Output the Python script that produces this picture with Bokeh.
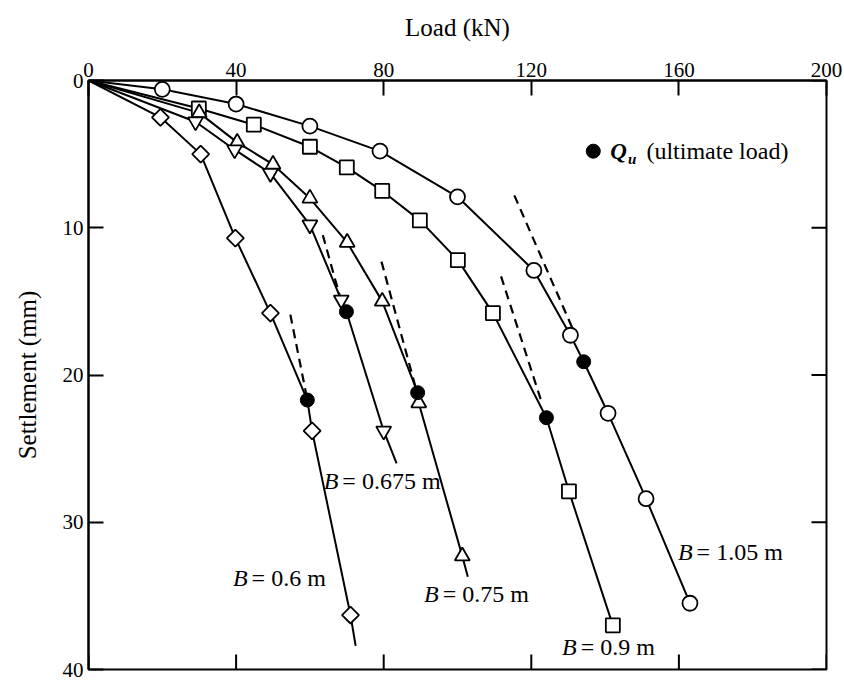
import numpy as np
from bokeh.plotting import figure
from bokeh.models import Range1d, FixedTicker
from bokeh.core.properties import value
from bokeh.embed import file_html
from bokeh.resources import INLINE

FONT = "Liberation Serif"

# ---- data (Load kN, Settlement mm) ----
x_ticks = [0, 40, 80, 120, 160, 200]
y_ticks = [0, 10, 20, 30, 40]

# B = 1.05 m (open circles)
load_105 = [20, 40, 60, 79, 100, 120.7, 130.6, 140.8, 151.1, 163]
settle_105 = [0.6, 1.6, 3.1, 4.8, 7.9, 12.9, 17.3, 22.6, 28.4, 35.5]
qu_105 = (134.2, 19.1)
end_105 = (163, 35.5)

# B = 0.9 m (open squares)
load_09 = [29.9, 44.8, 60, 70, 79.6, 89.8, 100.1, 109.6, 130.2, 142.1]
settle_09 = [1.9, 3.0, 4.5, 5.9, 7.5, 9.5, 12.2, 15.8, 27.9, 37.0]
qu_09 = (124.1, 22.9)
end_09 = (142.1, 37.0)

# B = 0.75 m (triangles)
load_075 = [30, 40.3, 50, 60, 70.1, 79.6, 89.5, 101.3]
settle_075 = [2.2, 4.2, 5.7, 8.0, 11.0, 15.0, 21.9, 32.3]
qu_075 = (89.2, 21.2)
end_075 = (102.8, 33.7)

# B = 0.675 m (inverted triangles)
load_0675 = [29, 39.6, 49.3, 60, 68.5, 80]
settle_0675 = [2.8, 4.7, 6.3, 9.8, 14.9, 23.8]
qu_0675 = (69.9, 15.7)
end_0675 = (83.5, 26.0)

# B = 0.6 m (diamonds)
load_06 = [19.5, 30.4, 39.8, 49.3, 60.6, 71]
settle_06 = [2.5, 5.0, 10.7, 15.8, 23.8, 36.3]
qu_06 = (59.3, 21.7)
end_06 = (72.4, 38.4)

# dashed tangent lines (start / end)
dash_x0 = [54.7, 63.5, 79.4, 111.8, 115.4]
dash_y0 = [15.9, 10.5, 12.3, 13.3, 7.8]
dash_x1 = [59.0, 68.5, 88.5, 123.0, 131.1]
dash_y1 = [21.3, 15.0, 20.7, 22.0, 16.8]

labels = ["= 0.6 m", "= 0.675 m", "= 0.75 m", "= 0.9 m", "= 1.05 m"]
label_x = [44.2, 68.8, 96.0, 133.4, 164.8]
label_y = [33.8, 27.2, 34.9, 38.5, 32.0]

legend_marker = (136.8, 4.8)

# ---- figure ----
p = figure(width=844, height=681, x_range=Range1d(0, 200), y_range=Range1d(40, 0),
           x_axis_location="above", output_backend="svg", toolbar_location=None,
           min_border_left=88, min_border_right=18, min_border_top=80, min_border_bottom=12,
           background_fill_color="white", border_fill_color="white")
p.grid.visible = False
p.outline_line_color = "black"
p.outline_line_width = 2

def style_axis(ax, ticks):
    ax.ticker = FixedTicker(ticks=ticks)
    ax.major_tick_in = 15
    ax.major_tick_out = 0
    ax.minor_tick_line_color = None
    ax.major_tick_line_width = 2
    ax.major_tick_line_color = "black"
    ax.axis_line_width = 2
    ax.axis_line_color = "black"
    ax.major_label_text_font = FONT
    ax.major_label_text_color = "black"
    ax.major_label_text_font_size = "21px"
    ax.axis_label_text_font = FONT
    ax.axis_label_text_font_style = "normal"
    ax.axis_label_text_color = "black"
    ax.axis_label_text_font_size = "25px"

xa = p.xaxis[0]
style_axis(xa, x_ticks)
xa.axis_label = "Load (kN)"
xa.major_label_standoff = 4
xa.axis_label_standoff = 19

ya = p.yaxis[0]
style_axis(ya, y_ticks)
ya.axis_label = "Settlement (mm)"
ya.major_label_standoff = 5
ya.axis_label_standoff = 19

# inward ticks on the bottom and right edges (no labels)
p.ray(x=x_ticks, y=[y_ticks[-1]] * len(x_ticks), length=15, length_units="screen",
      angle=np.pi / 2, line_color="black", line_width=2)
p.ray(x=[x_ticks[-1]] * len(y_ticks), y=y_ticks, length=15, length_units="screen",
      angle=np.pi, line_color="black", line_width=2)

def curve(lx, ly, qu, end):
    pts = sorted(list(zip(lx, ly)) + [qu, end], key=lambda t: t[1])
    xs = [0.0] + [q[0] for q in pts]
    ys = [0.0] + [q[1] for q in pts]
    return xs, ys

series = [
    (load_105, settle_105, qu_105, end_105, "circle", 0, 15),
    (load_09, settle_09, qu_09, end_09, "square", 0, 14),
    (load_075, settle_075, qu_075, end_075, "triangle", 0, 15),
    (load_0675, settle_0675, qu_0675, end_0675, "inverted_triangle", 0, 15),
    (load_06, settle_06, qu_06, end_06, "square", np.pi / 4, 12),
]

for lx, ly, qu, end, mk, ang, sz in series:
    xs, ys = curve(lx, ly, qu, end)
    p.line(xs, ys, line_color="black", line_width=2)

p.segment(x0=dash_x0, y0=dash_y0, x1=dash_x1, y1=dash_y1,
          line_color="black", line_width=2.2, line_dash="9 6")

for lx, ly, qu, end, mk, ang, sz in series:
    p.scatter(lx, ly, marker=mk, angle=ang, size=sz, fill_color="white",
              line_color="black", line_width=1.8)
    p.scatter([qu[0]], [qu[1]], marker="circle", size=14, fill_color="black",
              line_color="black")

# curve labels: italic B then the rest
p.text(x=label_x, y=label_y, text=["B"] * len(labels), text_align="right",
       text_baseline="middle", text_font=value(FONT), text_font_style="italic",
       text_font_size=value("24px"), text_color="black", x_offset=-4)
p.text(x=label_x, y=label_y, text=labels, text_align="left",
       text_baseline="middle", text_font=value(FONT), text_font_size=value("24px"),
       text_color="black")

# legend
p.scatter([legend_marker[0]], [legend_marker[1]], marker="circle", size=14,
          fill_color="black", line_color="black")
p.text(x=[legend_marker[0] + 4.6], y=[legend_marker[1]], text=["Q"], text_align="left",
       text_baseline="middle", text_font=value(FONT), text_font_style="bold italic",
       text_font_size=value("23px"), text_color="black")
p.text(x=[legend_marker[0] + 9.4], y=[legend_marker[1] + 0.55], text=["u"], text_align="left",
       text_baseline="middle", text_font=value(FONT), text_font_style="bold italic",
       text_font_size=value("15px"), text_color="black")
p.text(x=[legend_marker[0] + 14.4], y=[legend_marker[1]], text=["(ultimate load)"],
       text_align="left", text_baseline="middle", text_font=value(FONT),
       text_font_size=value("24px"), text_color="black")

open("out.html", "w").write(file_html(p, INLINE))
